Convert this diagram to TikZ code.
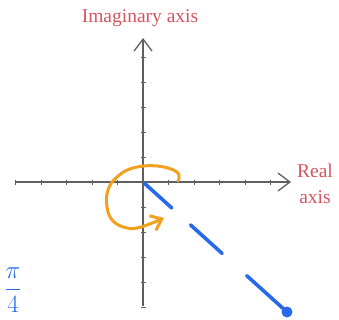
\documentclass[tikz,border=0pt]{standalone}
\usepackage{fontspec}
\setmainfont{Liberation Serif}
\usetikzlibrary{arrows.meta,calc}
\definecolor{axred}{RGB}{214,84,94}
\definecolor{axgray}{RGB}{95,95,95}
\definecolor{penblue}{RGB}{40,105,235}
\definecolor{penorange}{RGB}{242,160,30}
\tikzset{
  axisline/.style={draw=axgray,line width=1.3pt,-{Straight Barb[length=12pt,width=18pt,line width=1.3pt]}},
  tickmark/.style={draw=axgray,line width=0.7pt},
  axlabel/.style={text=axred,font=\fontsize{19.5}{26}\selectfont,inner sep=0pt,align=center},
  bluepen/.style={draw=penblue,line width=3.6pt,line cap=round},
  orangepen/.style={draw=penorange,line width=3pt,line cap=round}
}
\begin{document}
\begin{tikzpicture}[x=1pt,y=-1pt]
\useasboundingbox (0,0) rectangle (339,320);
\coordinate (O) at (143,182);
\coordinate (L) at (15,182);
\coordinate (R) at (291,182);
\coordinate (T) at (143,38);
\coordinate (B) at (143,306);
\coordinate (P) at (287,312);
% ticks
\foreach \k in {-5,-4,-3,-2,-1,1,2,3,4,5}{
  \draw[tickmark] ($(O)+(25.5*\k,-2.5)$) -- ($(O)+(25.5*\k,2.5)$);
}
\foreach \k in {-5,-4,-3,-2,-1,1,2,3,4,5}{
  \draw[tickmark] ($(O)+(-2.5,25*\k)$) -- ($(O)+(2.5,25*\k)$);
}
% axes
\draw[axisline] (L) -- (R);
\draw[axisline] (B) -- (T);
% labels
\node[axlabel] (imag) at (140,18) {Imaginary axis};
\node[axlabel] (real) at (315,184) {Real\\axis};
% blue dashed ray
\draw[bluepen] ($(O)!0.01!(P)$) -- ($(O)!0.2!(P)$);
\draw[bluepen] ($(O)!0.33!(P)$) -- ($(O)!0.55!(P)$);
\draw[bluepen] ($(O)!0.72!(P)$) -- (P);
\fill[penblue] (P) circle (5.5);
% orange loop
\draw[orangepen,-{Straight Barb[length=10pt,width=16pt,line width=3pt]}]
  plot[smooth,tension=0.7] coordinates {(178,181) (177,172) (157,166) (133,168) (117,177) (108,190) (107,207) (113,221) (127,228) (141,227) (164,218)};
% pi/4
\node[text=penblue,inner sep=0pt,font=\fontsize{28}{32}\selectfont] (angle) at (13,290) {$\displaystyle\frac{\pi}{4}$};
\end{tikzpicture}
\end{document}
